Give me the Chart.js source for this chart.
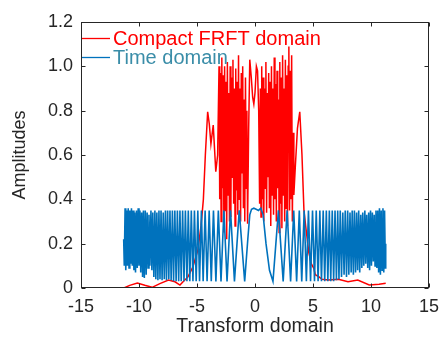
<!DOCTYPE html>
<html>
<head>
<meta charset="utf-8">
<script src="https://cdn.jsdelivr.net/npm/chart.js@4/dist/chart.umd.min.js"></script>
<style>
html,body{margin:0;padding:0;background:#fff;}
canvas{display:block;}
</style>
</head>
<body>
<canvas id="c" width="447" height="338"></canvas>
<script>
// ---- data ----
const xTicks = [-15, -10, -5, 0, 5, 10, 15];
const yTicks = [0, 0.2, 0.4, 0.6, 0.8, 1.0, 1.2];
const seriesNames = ['Compact FRFT domain', 'Time domain'];

const frftX = [-11.30,-10.80,-10.14,-9.50,-8.87,-8.20,-7.46,-6.90,-6.47,-6.20,-5.78,-5.35,-4.93,-4.65,-4.45,-4.28,-4.08,-3.94,-3.80,-3.60,-3.38,-3.22,
 -3.10,-3.04,-2.98,-2.92,-2.86,-2.80,-2.74,-2.68,-2.62,-2.56,-2.50,-2.44,-2.38,-2.32,-2.26,-2.20,-2.14,-2.08,-2.02,-1.96,-1.90,-1.84,-1.78,-1.72,-1.66,-1.60,-1.54,-1.48,-1.42,-1.36,-1.30,-1.24,-1.18,-1.12,-1.06,-1.00,-0.94,-0.88,-0.82,-0.76,-0.70,-0.64,
 -0.55,-0.45,-0.32,-0.20,-0.10,0.00,0.12,0.22,0.32,0.40,
 0.46,0.52,0.58,0.64,0.70,0.76,0.82,0.88,0.94,1.00,1.06,1.12,1.18,1.24,1.30,1.36,1.42,1.48,1.54,1.60,1.66,1.72,1.78,1.84,1.90,1.96,2.02,2.08,2.14,2.20,2.26,2.32,2.38,2.44,2.50,2.56,2.62,2.68,2.74,2.80,2.86,2.92,2.98,3.04,3.10,3.16,3.22,3.28,3.35,
 3.48,3.66,3.86,4.05,4.22,4.36,4.64,4.85,5.07,5.20,5.49,5.78,6.33,7.18,8.02,8.86,9.85,10.70,11.27];
const frftY = [0.000,0.012,0.022,0.012,0.003,0.020,0.036,0.028,0.013,0.028,0.050,0.096,0.170,0.280,0.400,0.600,0.795,0.740,0.650,0.735,0.525,0.600,
 1.00,0.40,0.97,0.30,1.04,0.45,0.96,0.25,1.00,0.35,0.93,0.22,1.02,0.42,0.88,0.30,1.00,0.32,0.95,0.50,1.03,0.38,0.90,0.28,0.99,0.44,0.93,0.33,1.05,0.40,0.90,0.30,0.97,0.52,1.00,0.36,0.85,0.30,0.95,0.45,0.80,0.29,
 0.70,1.03,0.95,0.86,0.83,0.88,1.00,0.98,0.80,0.38,
 0.90,0.32,1.00,0.40,0.95,0.30,0.90,0.45,1.02,0.34,0.88,0.50,0.97,0.36,0.93,0.28,1.00,0.42,0.90,0.33,1.04,0.40,0.92,0.30,0.98,0.45,0.85,0.25,1.02,0.38,0.95,0.27,1.05,0.42,0.90,0.30,1.03,0.36,0.96,0.28,1.00,1.09,0.35,0.98,0.40,1.05,0.30,0.70,0.42,
 0.55,0.72,0.795,0.60,0.35,0.284,0.160,0.110,0.089,0.060,0.051,0.039,0.036,0.039,0.028,0.036,0.014,0.017,0.021];

const timeX = [-11.32,-11.27,-11.20,-11.14,-11.07,-11.00,-10.93,-10.86,-10.79,-10.72,-10.65,-10.58,-10.51,-10.44,-10.37,-10.30,-10.22,-10.15,-10.07,-10.00,
 -9.92,-9.85,-9.77,-9.69,-9.62,-9.54,-9.46,-9.38,-9.30,-9.22,-9.14,-9.06,-8.97,-8.89,-8.81,-8.72,-8.63,-8.55,-8.46,-8.37,-8.28,-8.19,-8.10,-8.01,
 -7.91,-7.82,-7.72,-7.63,-7.53,-7.43,-7.33,-7.23,-7.12,-7.02,-6.91,-6.80,-6.69,-6.58,-6.47,-6.36,-6.24,-6.12,-6.00,-5.87,-5.75,-5.62,-5.49,-5.35,-5.22,-5.07,
 -4.93,-4.78,-4.62,-4.47,-4.30,-4.13,-3.95,-3.77,-3.58,-3.37,-3.16,-2.93,-2.68,-2.41,-2.11,-1.77,-1.36,-0.89,
 -0.62,-0.45,-0.30,-0.10,0.10,0.30,0.50,0.70,0.95,1.25,
 1.55,2.02,2.43,2.77,3.07,3.34,3.59,3.82,4.03,4.24,4.43,4.61,4.79,4.96,5.13,5.28,5.44,5.59,5.73,5.88,6.01,6.15,6.28,6.41,6.53,6.66,6.78,6.90,
 7.02,7.13,7.24,7.35,7.46,7.57,7.68,7.78,7.89,7.99,8.09,8.19,8.29,8.38,8.48,8.57,8.67,8.76,8.85,8.94,9.03,9.12,9.21,9.29,9.38,9.47,9.55,9.63,9.72,9.80,9.88,9.96,
 10.04,10.12,10.20,10.28,10.35,10.43,10.51,10.58,10.66,10.73,10.81,10.88,10.96,11.03,11.10,11.17,11.24,11.27];
const timeY = [0.22,0.10,0.36,0.08,0.35,0.10,0.36,0.09,0.35,0.11,0.36,0.10,0.35,0.08,0.34,0.07,0.35,0.09,0.36,0.10,
 0.35,0.07,0.34,0.05,0.35,0.045,0.35,0.06,0.34,0.09,0.33,0.10,0.35,0.08,0.34,0.05,0.35,0.04,0.34,0.035,0.35,0.04,0.35,0.035,
 0.34,0.04,0.35,0.035,0.35,0.04,0.35,0.035,0.35,0.03,0.35,0.03,0.35,0.03,0.35,0.03,0.35,0.03,0.35,0.03,0.35,0.03,0.35,0.03,0.35,0.03,
 0.35,0.03,0.35,0.03,0.35,0.03,0.35,0.03,0.35,0.03,0.35,0.03,0.35,0.03,0.35,0.03,0.35,0.03,
 0.22,0.33,0.355,0.36,0.355,0.35,0.36,0.33,0.20,0.08,
 0.03,0.35,0.03,0.35,0.03,0.35,0.03,0.35,0.03,0.35,0.03,0.35,0.03,0.35,0.03,0.35,0.03,0.35,0.03,0.35,0.03,0.35,0.03,0.35,0.03,0.35,0.03,0.35,
 0.035,0.35,0.04,0.35,0.05,0.34,0.06,0.35,0.05,0.35,0.06,0.34,0.07,0.35,0.06,0.35,0.07,0.34,0.08,0.35,0.07,0.33,0.09,0.34,0.10,0.35,0.11,0.33,0.09,0.34,0.08,0.35,
 0.10,0.34,0.12,0.33,0.10,0.35,0.09,0.35,0.07,0.36,0.06,0.35,0.08,0.36,0.07,0.35,0.09,0.20];

// ---- build chart ----
const pts = (xs, ys) => xs.map((x, i) => ({x: x, y: ys[i]}));
const AXIS = '#262626';
const FONT = '"Liberation Sans", Arial, Helvetica, sans-serif';

const frame = {
  id: 'frame',
  afterDraw(chart) {
    const ctx = chart.ctx;
    const a = chart.chartArea;
    const L = Math.round(a.left) + 0.5, R = Math.round(a.right) - 0.5;
    const T = Math.round(a.top) + 0.5, B = Math.round(a.bottom) - 0.5;
    ctx.save();
    ctx.strokeStyle = AXIS; ctx.lineWidth = 1;
    ctx.strokeRect(L, T, R - L, B - T);
    const tl = 4;
    ctx.beginPath();
    chart.scales.x.ticks.forEach(t => {
      const p = Math.round(chart.scales.x.getPixelForValue(t.value)) + 0.5;
      ctx.moveTo(p, B); ctx.lineTo(p, B - tl);
      ctx.moveTo(p, T); ctx.lineTo(p, T + tl);
    });
    chart.scales.y.ticks.forEach(t => {
      const p = Math.round(chart.scales.y.getPixelForValue(t.value)) + 0.5;
      ctx.moveTo(L, p); ctx.lineTo(L + tl, p);
      ctx.moveTo(R, p); ctx.lineTo(R - tl, p);
    });
    ctx.stroke();
    // legend (inside axes, top-left, no box)
    const items = [
      {name: seriesNames[0], line: '#FF0000', text: '#FF0000', y: 38, base: 45},
      {name: seriesNames[1], line: '#0072BD', text: '#3A8DA8', y: 57, base: 64}
    ];
    ctx.font = '20px ' + FONT;
    ctx.textAlign = 'left';
    ctx.textBaseline = 'alphabetic';
    items.forEach(it => {
      ctx.beginPath();
      ctx.strokeStyle = it.line; ctx.lineWidth = 1.3;
      ctx.moveTo(a.left + 1, it.y + 0.5); ctx.lineTo(a.left + 29, it.y + 0.5);
      ctx.stroke();
      ctx.fillStyle = it.text;
      ctx.fillText(it.name, a.left + 32, it.base);
    });
    ctx.restore();
  }
};

new Chart(document.getElementById('c'), {
  type: 'line',
  data: {
    datasets: [
      {label: seriesNames[0], data: pts(frftX, frftY), borderColor: '#FF0000', borderWidth: 1.5, pointRadius: 0, tension: 0, order: 1, fill: false},
      {label: seriesNames[1], data: pts(timeX, timeY), borderColor: '#0072BD', borderWidth: 1.6, pointRadius: 0, tension: 0, order: 0, fill: false}
    ]
  },
  options: {
    responsive: false,
    animation: false,
    devicePixelRatio: 1,
    layout: {padding: {top: 22, right: 11, left: 0, bottom: 0}},
    plugins: {legend: {display: false}, tooltip: {enabled: false}},
    scales: {
      x: {
        type: 'linear', min: -15, max: 15,
        afterBuildTicks: s => { s.ticks = xTicks.map(v => ({value: v})); },
        ticks: {color: AXIS, font: {family: FONT, size: 18}, padding: 8, maxRotation: 0, autoSkip: false,
                callback: v => String(v)},
        grid: {display: false, drawTicks: false},
        border: {display: false},
        title: {display: true, text: 'Transform domain', color: AXIS, font: {family: FONT, size: 19.5}, padding: {top: 0, bottom: 0}},
        afterFit: s => { s.height = 50; }
      },
      y: {
        type: 'linear', min: 0, max: 1.2,
        afterBuildTicks: s => { s.ticks = yTicks.map(v => ({value: v})); },
        ticks: {color: AXIS, font: {family: FONT, size: 18}, padding: 8, autoSkip: false,
                callback: v => (v === 0 ? '0' : v.toFixed(1))},
        grid: {display: false, drawTicks: false},
        border: {display: false},
        title: {display: true, text: 'Amplitudes', color: AXIS, font: {family: FONT, size: 18}, padding: {top: 9, bottom: 0}},
        afterFit: s => { s.width = 81; }
      }
    }
  },
  plugins: [frame]
});
</script>
</body>
</html>
